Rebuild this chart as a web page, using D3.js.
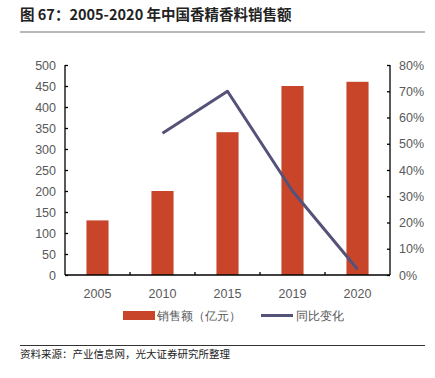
<!DOCTYPE html>
<html>
<head>
<meta charset="utf-8">
<script src="https://cdn.jsdelivr.net/npm/d3@7"></script>
<style>
  body { margin: 0; background: #fff; }
  text { font-family: "Liberation Sans", Arial, sans-serif; }
  .cjk { font-family: "Noto Sans CJK SC", sans-serif; }
</style>
</head>
<body>
<script>
const svgW = 435;
const svgH = 378;

const years = ['2005', '2010', '2015', '2019', '2020'];
const sales = [130, 200, 340, 450, 460];         // 销售额（亿元）
const growth = [null, 0.54, 0.70, 0.32, 0.022];  // 同比变化
const leftTicks = [0, 50, 100, 150, 200, 250, 300, 350, 400, 450, 500];
const rightTicks = [0, 0.1, 0.2, 0.3, 0.4, 0.5, 0.6, 0.7, 0.8];

const barColor = '#c8452a';
const lineColor = '#555279';
const labelColor = '#595959';

const svg = d3.select('body')
              .append('svg')
              .attr('width', svgW)
              .attr('height', svgH);

// 标题
svg.append('text')
    .attr('class', 'cjk')
    .attr('x', 20)
    .attr('y', 20)
    .attr('font-size', 14.5)
    .attr('font-weight', 'bold')
    .attr('fill', '#222')
    .text('图 67：2005-2020 年中国香精香料销售额');
svg.append('line')
    .attr('x1', 20).attr('x2', 425)
    .attr('y1', 32).attr('y2', 32)
    .attr('stroke', '#777')
    .attr('stroke-width', 1.2);

const plot = { left: 65, right: 390, top: 65, bottom: 275 };

const x = d3.scaleBand()
            .domain(years)
            .range([plot.left, plot.right])
            .paddingInner(0.66)
            .paddingOuter(0.33);
const xStep = d3.scaleBand().domain(years).range([plot.left, plot.right]);

const yL = d3.scaleLinear().domain([0, 500]).range([plot.bottom, plot.top]);
const yR = d3.scaleLinear().domain([0, 0.8]).range([plot.bottom, plot.top]);

// 柱子
svg.append('g')
    .selectAll('rect')
    .data(sales)
    .enter()
    .append('rect')
    .attr('x', (d, i) => x(years[i]))
    .attr('width', x.bandwidth())
    .attr('y', d => yL(d))
    .attr('height', d => yL(0) - yL(d))
    .attr('fill', barColor);

// 折线
const line = d3.line()
               .defined(d => d.v != null)
               .x(d => xStep(d.k) + xStep.bandwidth() / 2)
               .y(d => yR(d.v));
svg.append('path')
    .datum(years.map((k, i) => ({ k: k, v: growth[i] })))
    .attr('d', line)
    .attr('fill', 'none')
    .attr('stroke', lineColor)
    .attr('stroke-width', 3)
    .attr('stroke-linejoin', 'round');

// 坐标轴
function styleAxis(g) {
  g.selectAll('path, line').attr('stroke', '#000').attr('stroke-width', 1.3);
  g.selectAll('text').attr('fill', labelColor).attr('font-size', 12.5);
}

svg.append('g')
    .attr('transform', `translate(${plot.left},0)`)
    .call(d3.axisLeft(yL).tickValues(leftTicks).tickSizeInner(-3).tickSizeOuter(-3).tickPadding(9))
    .call(styleAxis)
    .call(g => g.select('.domain').attr('d', `M-0,${plot.top}V${plot.bottom}`));

svg.append('g')
    .attr('transform', `translate(${plot.right},0)`)
    .call(d3.axisRight(yR).tickValues(rightTicks).tickFormat(d3.format('.0%')).tickSizeInner(-3).tickSizeOuter(-3).tickPadding(9))
    .call(styleAxis)
    .call(g => g.select('.domain').attr('d', `M0,${plot.top}V${plot.bottom}`));

svg.append('g')
    .attr('transform', `translate(0,${plot.bottom})`)
    .call(d3.axisBottom(xStep).tickSize(0).tickPadding(14))
    .call(styleAxis)
    .call(g => g.select('.domain').attr('d', `M${plot.left},0H${plot.right}`));

// x轴分隔刻度
svg.append('g')
    .selectAll('line')
    .data(years.slice(1))
    .enter()
    .append('line')
    .attr('x1', d => xStep(d)).attr('x2', d => xStep(d))
    .attr('y1', plot.bottom).attr('y2', plot.bottom - 3)
    .attr('stroke', '#000')
    .attr('stroke-width', 1.3);

// 图例
const lg = svg.append('g').attr('class', 'cjk');
lg.append('rect')
    .attr('x', 123).attr('y', 311)
    .attr('width', 32).attr('height', 9)
    .attr('fill', barColor);
lg.append('text')
    .attr('x', 157).attr('y', 320)
    .attr('font-size', 12)
    .attr('fill', labelColor)
    .text('销售额（亿元）');
lg.append('line')
    .attr('x1', 261).attr('x2', 293)
    .attr('y1', 315.5).attr('y2', 315.5)
    .attr('stroke', lineColor)
    .attr('stroke-width', 3);
lg.append('text')
    .attr('x', 296).attr('y', 320)
    .attr('font-size', 12)
    .attr('fill', labelColor)
    .text('同比变化');

// 资料来源
svg.append('line')
    .attr('x1', 20).attr('x2', 425)
    .attr('y1', 345.5).attr('y2', 345.5)
    .attr('stroke', '#333')
    .attr('stroke-width', 1);
svg.append('text')
    .attr('class', 'cjk')
    .attr('x', 20)
    .attr('y', 358)
    .attr('font-size', 10.5)
    .attr('fill', '#222')
    .text('资料来源：产业信息网，光大证券研究所整理');
</script>
</body>
</html>
